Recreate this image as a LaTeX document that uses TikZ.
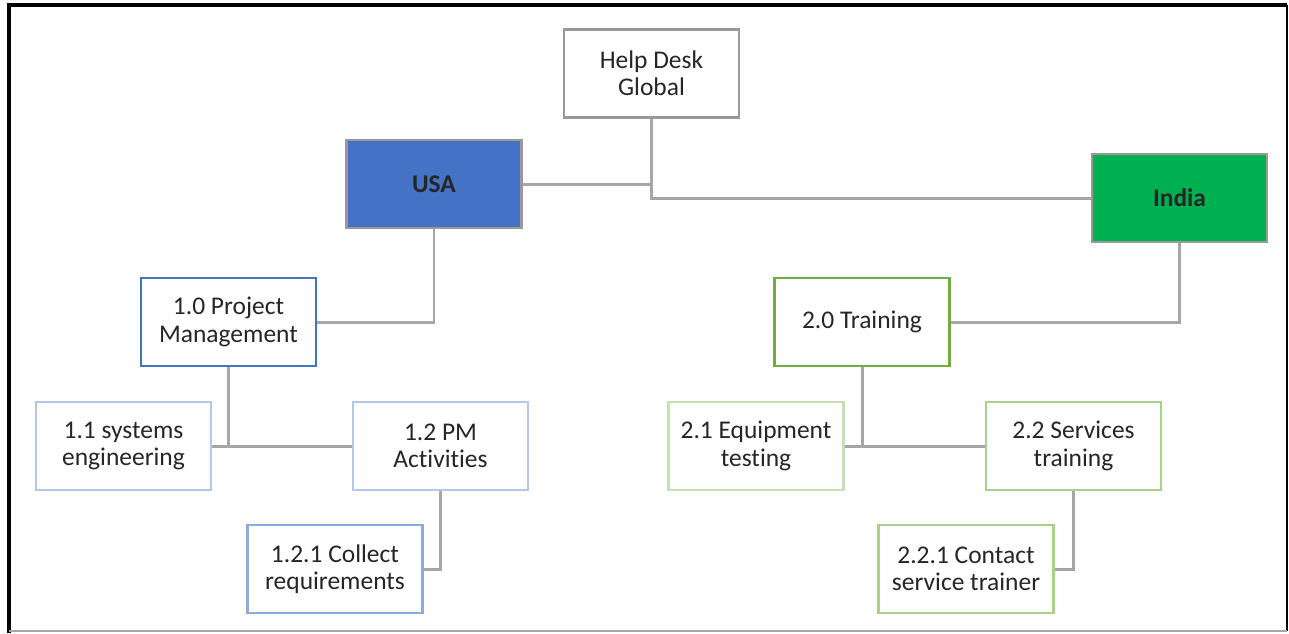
\documentclass[tikz,border=0pt]{standalone}
\usepackage{fontspec}
\setmainfont[Ligatures=NoCommon]{Carlito}
\definecolor{linegray}{HTML}{A6A6A6}
\definecolor{boxgray}{HTML}{999999}
\definecolor{usablue}{HTML}{4472C4}
\definecolor{indiagreen}{HTML}{00B050}
\definecolor{pmblue}{HTML}{4472C4}
\definecolor{lightblue}{HTML}{B4C7E7}
\definecolor{midblue}{HTML}{8FAADC}
\definecolor{trngreen}{HTML}{70AD47}
\definecolor{lightgreen}{HTML}{C5E0B4}
\definecolor{midgreen}{HTML}{A9D18E}
\tikzset{
  wbs/.style={draw=boxgray, line width=1.4pt, fill=white, minimum width=3.5cm,
    minimum height=1.76cm, inner sep=0pt, align=center, text=black!85,
    font=\fontsize{14.5}{15.5}\selectfont},
  link/.style={draw=linegray, line width=1.7pt}
}
\begin{document}
\begin{tikzpicture}[x=0.02cm, y=-0.02cm]
\useasboundingbox (0,0) rectangle (1289,633);
\fill[white] (0,0) rectangle (1289,633);
% frame
\draw[black, line width=1.9pt] (9,633) -- (9,5) -- (1287,5);
\draw[black, line width=0.8pt] (1287,5) -- (1287,631);
\draw[gray!70, line width=0.8pt] (9,631) -- (1287,631);

\node[wbs] (help) at (651.5,73.5) {Help Desk\\Global};
\node[wbs, fill=usablue, font=\fontsize{14.5}{15.5}\selectfont\bfseries] (usa) at (434,184) {USA};
\node[wbs, fill=indiagreen, font=\fontsize{14.5}{15.5}\selectfont\bfseries] (india) at (1179.5,198) {India};

\node[wbs, draw=pmblue] (pm) at (228.5,322) {1.0 Project\\Management};
\node[wbs, draw=trngreen] (trn) at (862,322) {2.0 Training};

\node[wbs, draw=lightblue] (se) at (123.5,446) {1.1 systems\\engineering};
\node[wbs, draw=lightblue] (pma) at (440.5,446) {1.2 PM\\Activities};
\node[wbs, draw=midblue] (cr) at (335,569) {1.2.1 Collect\\requirements};

\node[wbs, draw=lightgreen] (eq) at (756,446) {2.1 Equipment\\testing};
\node[wbs, draw=midgreen] (svc) at (1073.5,446) {2.2 Services\\training};
\node[wbs, draw=midgreen] (cst) at (966,569) {2.2.1 Contact\\service trainer};

\draw[link] (help.south) |- (india.west);
\draw[link] (usa.east) -- (usa.east -| help.south);
\draw[link] (usa.south) |- (pm.east);
\draw[link] (india.south) |- (trn.east);
\draw[link] (pm.south) -- (pm.south |- se.east);
\draw[link] (se.east) -- (pma.west);
\draw[link] (pma.south) |- (cr.east);
\draw[link] (trn.south) -- (trn.south |- eq.east);
\draw[link] (eq.east) -- (svc.west);
\draw[link] (svc.south) |- (cst.east);
\end{tikzpicture}
\end{document}
